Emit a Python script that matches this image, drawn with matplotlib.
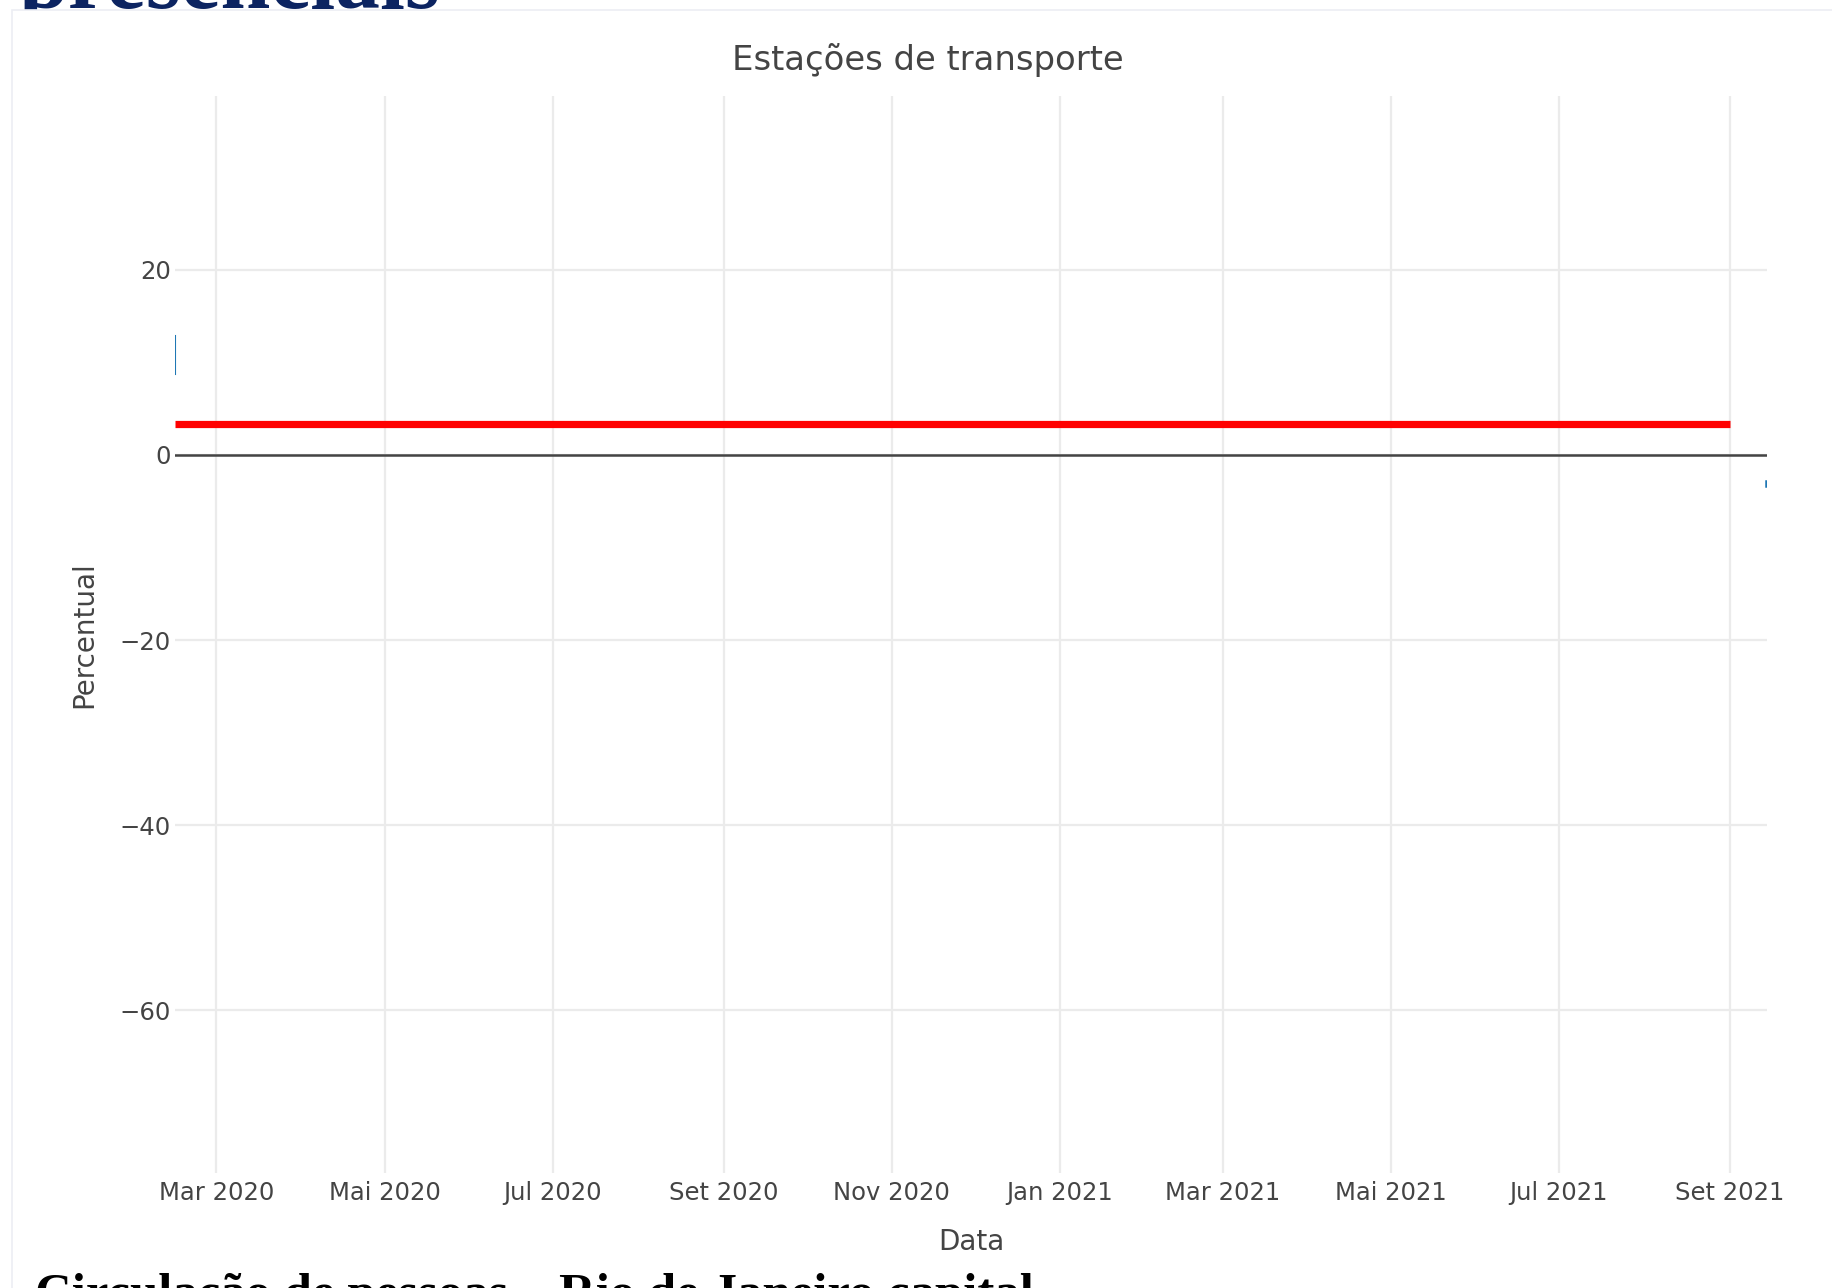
import matplotlib
matplotlib.use('Agg')
import matplotlib.pyplot as plt
import matplotlib.dates as mdates
import matplotlib.patches as patches
import numpy as np
from datetime import datetime

#%% Data
# reference (red) line: average level of the period
ref_dates = [datetime(2020, 2, 15), datetime(2021, 9, 1)]
ref_values = [3.3, 3.3]

# only the two ends of the blue series are visible in the screenshot
blue_start_dates = [datetime(2020, 2, 15), datetime(2020, 2, 15)]
blue_start_values = [12.9, 8.8]
blue_end_dates = [datetime(2021, 9, 14), datetime(2021, 9, 14)]
blue_end_values = [-2.8, -3.3]

x_range = [datetime(2020, 2, 15), datetime(2021, 9, 14, 12)]
y_range = [-77.6, 38.8]

x_ticks = [datetime(2020, 3, 1), datetime(2020, 5, 1), datetime(2020, 7, 1),
           datetime(2020, 9, 1), datetime(2020, 11, 1), datetime(2021, 1, 1),
           datetime(2021, 3, 1), datetime(2021, 5, 1), datetime(2021, 7, 1),
           datetime(2021, 9, 1)]
x_labels = ['Mar 2020', 'Mai 2020', 'Jul 2020', 'Set 2020', 'Nov 2020',
            'Jan 2021', 'Mar 2021', 'Mai 2021', 'Jul 2021', 'Set 2021']
y_ticks = [-60, -40, -20, 0, 20]

#%% Figure
W, H = 1832, 1288
fig = plt.figure(figsize=(W / 100, H / 100), dpi=100)
fig.patch.set_facecolor('white')

# page heading cut at the top, partly hidden behind the chart container
head = fig.text(19 / W, 1 - 8 / H, 'presenciais', family='Liberation Serif',
                weight='bold', fontsize=64.5, color='#0c2461', ha='left',
                va='baseline', zorder=1)
head.set_clip_path(patches.Rectangle((0, 1 - 10 / H), 1, 10 / H,
                                     transform=fig.transFigure))

# chart container (white box with a faint border)
box = patches.Rectangle((12 / W, -0.1), 1.2, 1 - 10 / H + 0.1,
                        transform=fig.transFigure, facecolor='white',
                        edgecolor='#eceef4', linewidth=1.2, zorder=2)
fig.add_artist(box)

ax = fig.add_axes([175 / W, 1 - 1173 / H, (1767 - 175) / W, (1173 - 96) / H])
ax.set_zorder(3)
ax.set_facecolor('white')

# Curves
ax.plot(ref_dates, ref_values, color='#ff0000', linewidth=5.2,
        solid_capstyle='butt', zorder=4)
ax.plot(blue_start_dates, blue_start_values, color='#1f77b4', linewidth=1.5,
        zorder=3)
ax.plot(blue_end_dates, blue_end_values, color='#1f77b4', linewidth=1.8,
        zorder=3)
ax.axhline(0, color='#444444', linewidth=1.8, zorder=2)

ax.set_xlim(mdates.date2num(x_range[0]), mdates.date2num(x_range[1]))
ax.set_ylim(y_range)

ax.set_xticks(mdates.date2num(x_ticks))
ax.set_xticklabels(x_labels)
ax.set_yticks(y_ticks)
ax.grid(True, color='#ebebeb', linewidth=1.6, zorder=0)
ax.set_axisbelow(True)
for s in ax.spines.values():
    s.set_visible(False)
ax.tick_params(axis='both', length=0, labelsize=17.5, labelcolor='#444444')
ax.tick_params(axis='x', pad=6)
ax.tick_params(axis='y', pad=3)

# Axis titles and chart title
ax.set_xlabel('Data', fontsize=20, color='#444444')
ax.xaxis.set_label_coords(0.5, -0.051)
ax.set_ylabel('Percentual', fontsize=20, color='#444444')
ax.yaxis.set_label_coords(-0.0485, 0.5)
fig.text(928 / W, 1 - 70 / H, 'Estações de transporte', fontsize=24.4,
         color='#444444', ha='center', va='baseline', zorder=4)

# next section heading, cut at the bottom
fig.text(35 / W, 1 - 1308 / H, 'Circulação de pessoas – Rio de Janeiro capital',
         family='Liberation Serif', weight='bold', fontsize=36.5,
         color='black', ha='left', va='baseline', zorder=5)

plt.savefig('out.png', dpi=100)
